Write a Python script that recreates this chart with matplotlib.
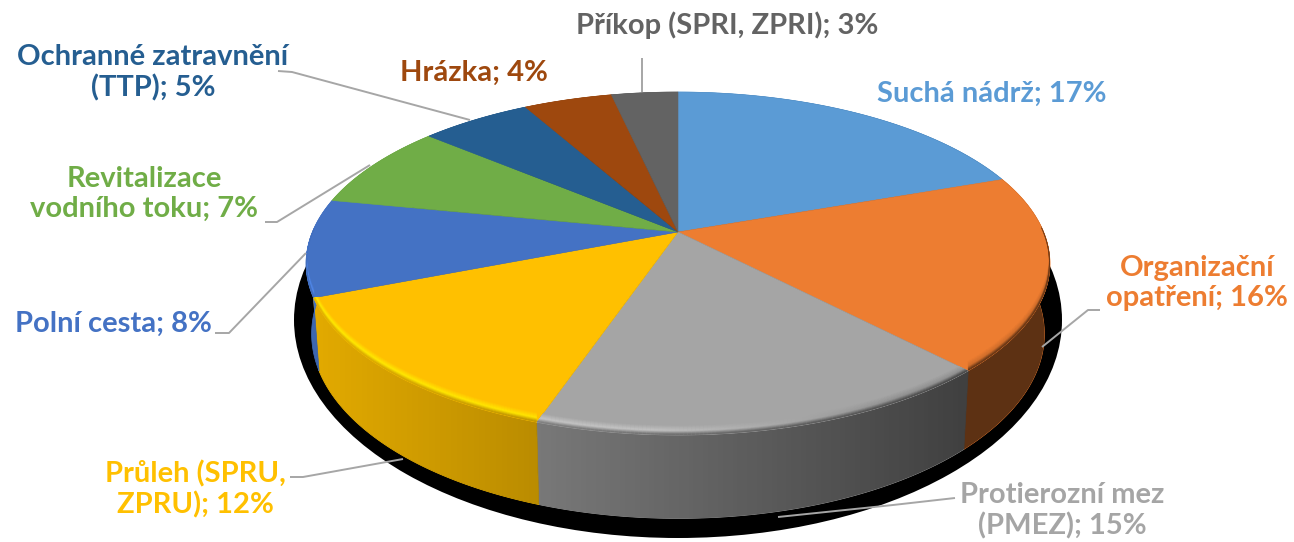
import numpy as np
import matplotlib
matplotlib.use("Agg")
import matplotlib.pyplot as plt
from matplotlib.collections import LineCollection
from matplotlib.colors import to_rgb
from matplotlib.patches import Ellipse, PathPatch, Polygon
from matplotlib.path import Path

# === DATA ===
categories = ["Suchá nádrž", "Organizační\nopatření", "Protierozní mez\n(PMEZ)",
              "Průleh (SPRU,\nZPRU)", "Polní cesta", "Revitalizace\nvodního toku",
              "Ochranné zatravnění\n(TTP)", "Hrázka", "Příkop (SPRI, ZPRI)"]
values = [17, 16, 15, 12, 8, 7, 5, 4, 3]
colors = ["#5B9BD5", "#ED7D31", "#A5A5A5", "#FFC000", "#4472C4",
          "#70AD47", "#255E91", "#9E480E", "#636363"]

# label anchors in pixels (centre x, centre y)
label_pos = [(992, 94), (1197, 283), (1062, 511), (195, 489), (113, 324),
             (144, 194), (153, 73), (474, 73), (727, 25)]

leaders = [[(278, 71), (292, 72), (470, 120)],
           [(265, 222), (277, 222), (370, 165)],
           [(215, 333), (229, 333), (306, 253)],
           [(290, 477), (303, 477), (403, 459)],
           [(955, 498), (893, 505), (778, 517)],
           [(1100, 310), (1088, 310), (1042, 347)],
           [(642, 58), (642, 92)]]

# projection of the tilted disc
CX, CY = 678, 232
RX, RY = 365.6, 165.7
K = 0.184
DEPTH = 68
LOW_SCALE = 0.985


def rim(theta, lower=False, up=0.0):
    x, y = np.cos(theta), np.sin(theta)
    w = 1 / (1 + K * y)
    if lower:
        return CX + LOW_SCALE * RX * x * w, CY - RY * y * w + DEPTH * w
    return CX + RX * x * w, CY - RY * y * w - up


def wall_factor(px):
    return np.interp(px, [300, 320, 548, 960, 1060], [0.95, 0.88, 0.72, 0.39, 0.39])


fig = plt.figure(figsize=(12.94, 5.42), dpi=100)
ax = fig.add_axes([0, 0, 1, 1])

# angles come from the pie layout itself
wedges, _ = ax.pie(values, startangle=90, counterclock=False)
angles = [(np.radians(w.theta1), np.radians(w.theta2)) for w in wedges]
for w in wedges:
    w.remove()
ax.set_aspect("auto")

# shadow
ax.add_patch(Ellipse((678, 320), 768, 436, color="black", zorder=1, lw=0))

# side walls
wall_paths = []
for (t1, t2), col in zip(angles, colors):
    th = np.linspace(t1, t2, 120)
    xt, yt = rim(th)
    xb, yb = rim(th, lower=True)
    pts = np.column_stack([np.r_[xt, xb[::-1]], np.r_[yt, yb[::-1]]])
    ax.add_patch(Polygon(pts, closed=True, facecolor=col, edgecolor=col, lw=0.5, zorder=2))
    wall_paths.append(Path(np.r_[pts, pts[:1]], closed=True))

# darkening of the walls from left to right
px = np.arange(280, 1080)
overlay = np.zeros((1, len(px), 4))
overlay[0, :, 3] = 1 - wall_factor(px)
im = ax.imshow(overlay, extent=(280, 1080, 540, 80), aspect="auto", zorder=3)
clip = PathPatch(Path.make_compound_path(*wall_paths), transform=ax.transData,
                 facecolor="none", edgecolor="none")
ax.add_patch(clip)
im.set_clip_path(clip)

# top of the pie
for (t1, t2), col in zip(angles, colors):
    th = np.linspace(t1, t2, 120)
    xt, yt = rim(th)
    pts = np.column_stack([np.r_[CX, xt], np.r_[CY, yt]])
    top = Polygon(pts, closed=True, facecolor=col, edgecolor=col, lw=0.4, zorder=4)
    ax.add_patch(top)

    # bevel along the front edge
    base = np.array(to_rgb(col))
    xm = 0.5 * (rim(th)[0][:-1] + rim(th)[0][1:])
    front = np.sin(0.5 * (th[:-1] + th[1:])) < 0.02
    if not front.any():
        continue
    light = np.interp(xm, [300, 650, 900], [0.22, 0.18, -0.12])[:, None]
    dark = wall_factor(xm)[:, None]
    for up in np.arange(9.5, -0.1, -0.75):
        xs, ys = rim(th, up=up)
        segs = np.stack([np.column_stack([xs[:-1], ys[:-1]]),
                         np.column_stack([xs[1:], ys[1:]])], axis=1)
        high = np.clip(base * (1 + light), 0, 1)
        if up >= 4:
            mix = (up - 4) / 5.5
            rgb = high * (1 - mix) + base * mix
        else:
            mix = up / 4
            rgb = base * dark * (1 - mix) + high * mix
        lc = LineCollection(segs[front], colors=rgb[front], linewidths=1.3, zorder=5)
        ax.add_collection(lc)
        lc.set_clip_path(top)

# leader lines
for line in leaders:
    xs, ys = zip(*line)
    ax.plot(xs, ys, color="#A6A6A6", lw=1.4, zorder=6, solid_capstyle="butt")

# labels
for name, val, col, (lx, ly) in zip(categories, values, colors, label_pos):
    ax.text(lx, ly, f"{name}; {val}%", color=col, ha="center", va="center",
            family="Lato", fontweight="bold", fontsize=21, linespacing=1.18, zorder=7)

ax.set_xlim(0, 1294)
ax.set_ylim(542, 0)
ax.axis("off")

fig.savefig("out.png", dpi=100)
